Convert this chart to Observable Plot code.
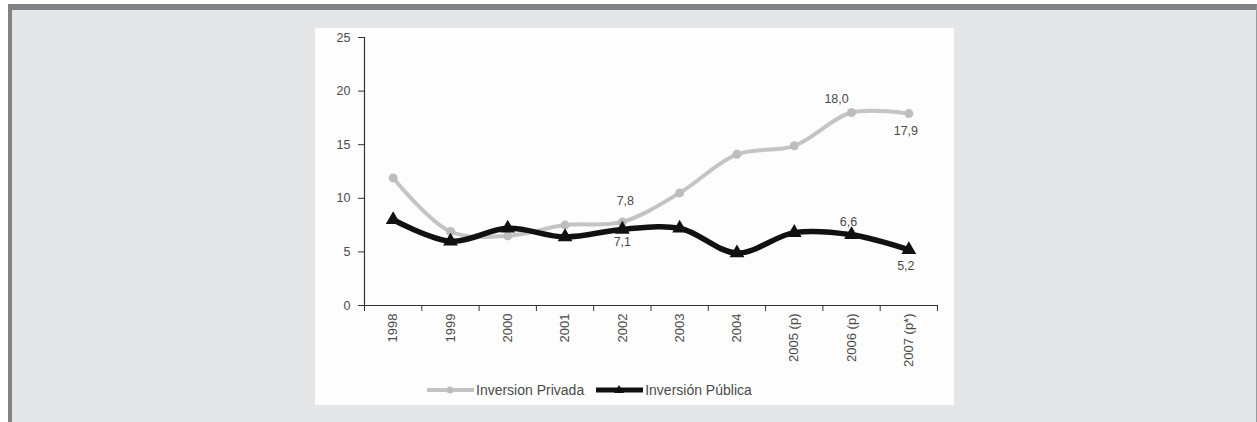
<!DOCTYPE html>
<html><head><meta charset="utf-8">
<script src="https://cdn.jsdelivr.net/npm/d3@7"></script>
<script src="https://cdn.jsdelivr.net/npm/@observablehq/plot@0.6"></script>
<style>
html,body{margin:0;padding:0;background:#fff;width:1257px;height:422px;overflow:hidden;font-family:"Liberation Sans",Arial,sans-serif;}
#frame{position:absolute;left:8px;top:4px;width:1244px;height:412px;background:#e5e6e8;border-top:6px solid #808285;border-left:4px solid #808285;border-right:1px solid #9a9b9e;}
#panel{position:absolute;left:315px;top:28px;width:639px;height:377px;background:#fdfdfd;}
#chart{position:absolute;left:0;top:0;}
#legend{position:absolute;left:112px;top:354px;display:flex;align-items:center;font-size:14px;color:#4a4a4a;white-space:nowrap;}
#legend .item{display:flex;align-items:center;margin-right:12px;}
#legend svg{display:block;margin-right:2px;}
</style>
</head><body>
<div id="frame"></div>
<div id="panel"><div id="chart"></div><div id="legend"></div></div>
<script>
const years = ["1998","1999","2000","2001","2002","2003","2004","2005 (p)","2006 (p)","2007 (p*)"];
const privada = [11.9, 6.9, 6.5, 7.5, 7.8, 10.5, 14.1, 14.9, 18.0, 17.9];
const publica = [8.0, 6.0, 7.2, 6.4, 7.1, 7.2, 4.9, 6.8, 6.6, 5.2];
const yTicks = [0, 5, 10, 15, 20, 25];
const seriesNames = ["Inversion Privada", "Inversión Pública"];
const seriesColors = ["#c4c4c4", "#111111"];

const fmt = v => v.toFixed(1).replace(".", ",");
const idx = years.map((_, i) => i);
const bounds = years.map((_, i) => i - 0.5).concat([years.length - 0.5]);
const priv = years.map((c, i) => ({i, v: privada[i]}));
const pub = years.map((c, i) => ({i, v: publica[i]}));
const pick = (arr, i) => arr.filter(d => d.i === i);

const chart = Plot.plot({
  width: 639, height: 350,
  marginLeft: 49, marginRight: 17, marginTop: 9, marginBottom: 73,
  style: {background: "transparent", fontFamily: "Liberation Sans, Arial, sans-serif", fontSize: "12.5px", color: "#4a4a4a", overflow: "visible"},
  x: {type: "linear", domain: [-0.5, years.length - 0.5]},
  y: {domain: [0, 25]},
  marks: [
    Plot.axisY({ticks: yTicks, tickSize: 6, tickPadding: 8, label: null, stroke: "#333"}),
    Plot.axisX({ticks: bounds, tickSize: 6, tickFormat: () => "", label: null, stroke: "#333"}),
    Plot.axisX({ticks: idx, tickSize: 0, tickPadding: 8, tickRotate: -90, tickFormat: i => years[i], label: null, fontSize: 13}),
    Plot.ruleX([-0.5], {stroke: "#333", strokeWidth: 1.2}),
    Plot.ruleY([0], {stroke: "#333", strokeWidth: 1.2}),
    Plot.line(priv, {x: "i", y: "v", stroke: seriesColors[0], strokeWidth: 4, curve: "catmull-rom"}),
    Plot.dot(priv, {x: "i", y: "v", r: 4.5, fill: "#bdbdbd"}),
    Plot.line(pub, {x: "i", y: "v", stroke: seriesColors[1], strokeWidth: 5.5, curve: "catmull-rom"}),
    Plot.dot(pub, {x: "i", y: "v", r: 5.5, symbol: "triangle", fill: "#111"}),
    Plot.text(pick(priv, 4), {x: "i", y: "v", text: d => fmt(d.v), dx: 3, dy: -21, fill: "#4a4a4a"}),
    Plot.text(pick(pub, 4), {x: "i", y: "v", text: d => fmt(d.v), dx: 0, dy: 13, fill: "#4a4a4a"}),
    Plot.text(pick(priv, 8), {x: "i", y: "v", text: d => fmt(d.v), dx: -15, dy: -14, fill: "#4a4a4a"}),
    Plot.text(pick(priv, 9), {x: "i", y: "v", text: d => fmt(d.v), dx: -3, dy: 17, fill: "#4a4a4a"}),
    Plot.text(pick(pub, 8), {x: "i", y: "v", text: d => fmt(d.v), dx: -3, dy: -13, fill: "#4a4a4a"}),
    Plot.text(pick(pub, 9), {x: "i", y: "v", text: d => fmt(d.v), dx: -3, dy: 16, fill: "#4a4a4a"})
  ]
});
document.getElementById("chart").appendChild(chart);

const legend = document.getElementById("legend");
seriesNames.forEach((name, k) => {
  const item = document.createElement("div");
  item.className = "item";
  const marker = k === 0
    ? `<circle cx="23" cy="7" r="3.5" fill="#bdbdbd"/>`
    : `<path d="M23,2 L28,10 L18,10 Z" fill="#111"/>`;
  item.innerHTML = `<svg width="47" height="14"><line x1="0" x2="47" y1="7" y2="7" stroke="${seriesColors[k]}" stroke-width="${k === 0 ? 4 : 5}"/>${marker}</svg><span>${name}</span>`;
  legend.appendChild(item);
});
</script>
</body></html>
